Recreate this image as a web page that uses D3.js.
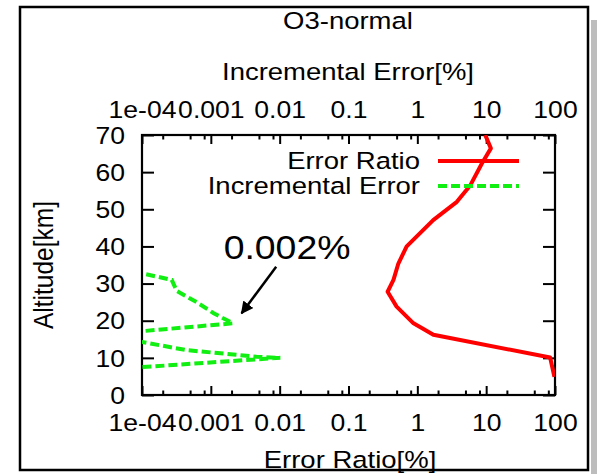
<!DOCTYPE html>
<html>
<head>
<meta charset="utf-8">
<script src="https://cdn.jsdelivr.net/npm/d3@7"></script>
<style>
  body { margin: 0; background: #fff; }
  text { font-family: "Liberation Sans", Arial, sans-serif; fill: #000; }
</style>
</head>
<body>
<script>
// tick values / labels
var xTickVals = [1e-4, 1e-3, 1e-2, 1e-1, 1, 10, 100];
var xTickLabels = ["1e-04", "0.001", "0.01", "0.1", "1", "10", "100"];
var yTickVals = [0, 10, 20, 30, 40, 50, 60, 70];

// Error Ratio [%] vs altitude [km]
var ratioAlt = [70, 66.4, 62.4, 56.5, 52, 47.1, 40, 35.4, 31, 27.8, 23.8, 19.3, 16.2, 10.1, 4.9];
var ratioVal = [9.7, 11.7, 8.7, 5.9, 3.75, 1.7, 0.70, 0.53, 0.45, 0.37, 0.50, 0.88, 1.71, 85, 98];

// Incremental Error [%] vs altitude [km]
var incAlt = [32.5, 31, 28, 25, 22, 19.3, 16.7, 14.8, 12.1, 10.3, 10, 9.6, 7.7, 7.3];
var incVal = [1.15e-4, 2.7e-4, 3.2e-4, 6.2e-4, 1.1e-3, 2.1e-3, 5e-5, 7e-5, 4.4e-4, 4.6e-3, 0.0102, 4.6e-3, 1.45e-4, 6e-5];

var FS = 23.5;
var SX_NUM = 1.13;  // text in the source is wider than tall
var SX_TXT = 1.17;

function drawChart() {
  var W = 597, H = 474;
  var m = { l: 142, r: 555, t: 135, b: 395 };

  var svg = d3.select("body").append("svg")
    .attr("width", W)
    .attr("height", H);

  // page shadow + outer frame
  svg.append("rect")
    .attr("x", 591).attr("y", 20)
    .attr("width", 6).attr("height", 454)
    .attr("fill", "#bdbdbd");
  svg.append("rect")
    .attr("x", 20).attr("y", 7)
    .attr("width", 568).attr("height", 463)
    .attr("fill", "#fff")
    .attr("stroke", "#000")
    .attr("stroke-width", 2.5);

  var x = d3.scaleLog().domain([1e-4, 100]).range([m.l, m.r]);
  var y = d3.scaleLinear().domain([0, 70]).range([m.b, m.t]);

  var minors = [];
  xTickVals.slice(0, -1).forEach(function (d) {
    [2, 5, 8].forEach(function (k) { minors.push(d * k); });
  });

  function label(txt, cx, cy, size, anchor, sx) {
    return svg.append("text")
      .attr("transform", "translate(" + cx + "," + cy + ") scale(" + (sx || SX_TXT) + ",1)")
      .attr("text-anchor", anchor || "middle")
      .attr("dy", "0.35em")
      .attr("font-size", size)
      .text(txt);
  }

  // bottom axis
  var gB = svg.append("g").attr("transform", "translate(0," + m.b + ")");
  gB.call(d3.axisBottom(x).tickValues(xTickVals)
      .tickFormat(function (d, i) { return xTickLabels[i]; })
      .tickSizeInner(-9).tickSizeOuter(0));
  gB.append("g").call(d3.axisBottom(x).tickValues(minors).tickFormat("").tickSizeInner(-4.5).tickSizeOuter(0));
  gB.selectAll("text")
    .attr("y", 28).attr("dy", "0.35em")
    .attr("font-size", FS)
    .attr("transform", "scale(" + SX_NUM + ",1)");

  // top axis
  var gT = svg.append("g").attr("transform", "translate(0," + m.t + ")");
  gT.call(d3.axisTop(x).tickValues(xTickVals)
      .tickFormat(function (d, i) { return xTickLabels[i]; })
      .tickSizeInner(-9).tickSizeOuter(0));
  gT.append("g").call(d3.axisTop(x).tickValues(minors).tickFormat("").tickSizeInner(-4.5).tickSizeOuter(0));
  gT.selectAll("text")
    .attr("y", -25).attr("dy", "0.35em")
    .attr("font-size", FS)
    .attr("transform", "scale(" + SX_NUM + ",1)");

  // left axis
  var gL = svg.append("g").attr("transform", "translate(" + m.l + ",0)");
  gL.call(d3.axisLeft(y).tickValues(yTickVals).tickSizeInner(-12).tickSizeOuter(0));
  gL.selectAll("text")
    .attr("x", 0).attr("dy", "0.35em")
    .attr("font-size", FS)
    .attr("text-anchor", "end")
    .attr("transform", "translate(-17,0) scale(" + SX_NUM + ",1)");

  // right axis (mirror ticks)
  var gR = svg.append("g").attr("transform", "translate(" + m.r + ",0)");
  gR.call(d3.axisRight(y).tickValues(yTickVals).tickFormat("").tickSizeInner(-12).tickSizeOuter(0));

  svg.selectAll(".domain").remove();
  svg.selectAll(".tick line").attr("stroke", "#000").attr("stroke-width", 2);

  // plot border
  svg.append("rect")
    .attr("x", m.l).attr("y", m.t)
    .attr("width", m.r - m.l).attr("height", m.b - m.t)
    .attr("fill", "none")
    .attr("stroke", "#000")
    .attr("stroke-width", 2.2);

  // clip
  svg.append("clipPath").attr("id", "plot")
    .append("rect")
    .attr("x", m.l).attr("y", m.t)
    .attr("width", m.r - m.l).attr("height", m.b - m.t);

  var line = d3.line()
    .x(function (d) { return x(d[0]); })
    .y(function (d) { return y(d[1]); });

  svg.append("path")
    .datum(ratioVal.map(function (v, i) { return [v, ratioAlt[i]]; }))
    .attr("clip-path", "url(#plot)")
    .attr("d", line)
    .attr("fill", "none")
    .attr("stroke", "#ff0000")
    .attr("stroke-width", 4)
    .attr("stroke-linejoin", "round");

  svg.append("path")
    .datum(incVal.map(function (v, i) { return [v, incAlt[i]]; }))
    .attr("clip-path", "url(#plot)")
    .attr("d", line)
    .attr("fill", "none")
    .attr("stroke", "#11ee11")
    .attr("stroke-width", 4)
    .attr("stroke-dasharray", "9,4");

  // legend
  label("Error Ratio", 420, 161, FS, "end");
  label("Incremental Error", 420, 186, FS, "end");
  svg.append("line")
    .attr("x1", 438).attr("x2", 519).attr("y1", 161).attr("y2", 161)
    .attr("stroke", "#ff0000").attr("stroke-width", 4);
  svg.append("line")
    .attr("x1", 438).attr("x2", 519).attr("y1", 186).attr("y2", 186)
    .attr("stroke", "#11ee11").attr("stroke-width", 4)
    .attr("stroke-dasharray", "9,4");

  // annotation
  svg.append("defs").append("marker")
    .attr("id", "head")
    .attr("viewBox", "0 0 10 10")
    .attr("refX", 9).attr("refY", 5)
    .attr("markerWidth", 5).attr("markerHeight", 5)
    .attr("orient", "auto")
    .append("path")
    .attr("d", "M0,0 L10,5 L0,10 z")
    .attr("fill", "#000");
  svg.append("line")
    .attr("x1", x(0.0089)).attr("y1", y(34.5))
    .attr("x2", x(0.0028)).attr("y2", y(22))
    .attr("stroke", "#000").attr("stroke-width", 2.5)
    .attr("marker-end", "url(#head)");
  label("0.002%", x(0.0128), y(39.8), 34, "middle", 1.1);

  // titles
  label("O3-normal", 348, 21, FS);
  label("Incremental Error[%]", 348, 72, FS);
  label("Error Ratio[%]", 350, 460, FS);
  svg.append("text")
    .attr("transform", "translate(43," + ((m.t + m.b) / 2) + ") rotate(-90) scale(1,1.15)")
    .attr("text-anchor", "middle")
    .attr("dy", "0.35em")
    .attr("font-size", 24.5)
    .text("Altitude[km]");
}

document.addEventListener("DOMContentLoaded", function () {
  drawChart();
});
</script>
</body>
</html>
